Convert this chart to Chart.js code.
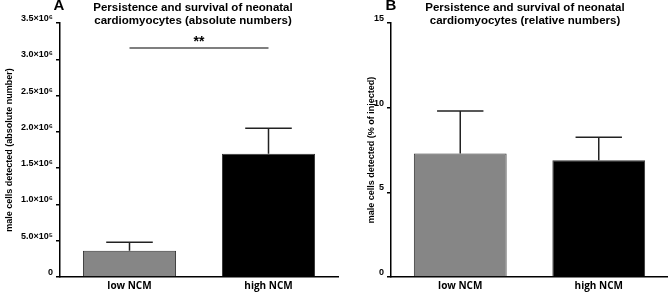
<!DOCTYPE html>
<html>
<head>
<meta charset="utf-8">
<script src="https://cdn.jsdelivr.net/npm/chart.js@4"></script>
<style>
  body { margin: 0; background: #fff; }
  #wrap { position: relative; width: 668px; height: 292px; }
  .panel { position: absolute; top: 0; height: 292px; }
</style>
</head>
<body>
<div id="wrap">
  <div class="panel" style="left:0;width:340px"><canvas id="chartA" width="340" height="292"></canvas></div>
  <div class="panel" style="left:340px;width:328px"><canvas id="chartB" width="328" height="292"></canvas></div>
</div>
<script>
const groups = ['low NCM', 'high NCM'];
const absMean = [360000, 1700000];
const absErr = [120000, 350000];
const relMean = [7.3, 6.9];
const relErr = [2.5, 1.35];
const absTickLabels = ['0', '5.0×10⁵', '1.0×10⁶', '1.5×10⁶', '2.0×10⁶', '2.5×10⁶', '3.0×10⁶', '3.5×10⁶'];
const relTickLabels = ['0', '5', '10', '15'];
const barColors = ['#868686', '#000000'];

const titleFont = 'bold 11.5px "Liberation Sans", Arial, sans-serif';

// upward-only error bars plus panel letter, title lines, significance bar
function annotations(cfg) {
  return {
    id: 'annot_' + cfg.letter,
    afterDatasetsDraw(chart) {
      const ctx = chart.ctx;
      const meta = chart.getDatasetMeta(0);
      const y = chart.scales.y;
      ctx.save();
      ctx.strokeStyle = '#222';
      ctx.lineWidth = 1.5;
      meta.data.forEach((bar, i) => {
        const top = y.getPixelForValue(cfg.mean[i] + cfg.err[i]);
        const half = bar.width / 4;
        ctx.beginPath();
        ctx.moveTo(bar.x, bar.y);
        ctx.lineTo(bar.x, top);
        ctx.moveTo(bar.x - half, top);
        ctx.lineTo(bar.x + half, top);
        ctx.stroke();
      });
      ctx.fillStyle = '#000';
      ctx.textAlign = 'center';
      ctx.textBaseline = 'middle';
      ctx.font = 'bold 15px "Liberation Sans", Arial, sans-serif';
      ctx.fillText(cfg.letter, cfg.letterX, 6);
      ctx.font = titleFont;
      ctx.fillText(cfg.title[0], cfg.titleX, 8);
      ctx.fillText(cfg.title[1], cfg.titleX, 21);
      if (cfg.sig) {
        const x0 = meta.data[0].x, x1 = meta.data[1].x;
        ctx.strokeStyle = '#000';
        ctx.lineWidth = 1.2;
        ctx.beginPath();
        ctx.moveTo(x0, 48);
        ctx.lineTo(x1, 48);
        ctx.stroke();
        ctx.font = 'bold 14px "Liberation Sans", Arial, sans-serif';
        ctx.fillText(cfg.sig, (x0 + x1) / 2, 42);
      }
      ctx.restore();
    }
  };
}

function makeChart(id, mean, opts) {
  return new Chart(document.getElementById(id), {
    type: 'bar',
    data: {
      labels: groups,
      datasets: [{
        data: mean,
        backgroundColor: barColors,
        borderColor: '#333',
        borderWidth: 1,
        categoryPercentage: 1,
        barPercentage: 0.67
      }]
    },
    options: {
      responsive: false,
      animation: false,
      layout: { padding: { top: 23, right: opts.padRight, left: 0, bottom: 0 } },
      plugins: { legend: { display: false }, tooltip: { enabled: false }, title: { display: false } },
      scales: {
        x: {
          grid: { display: false, drawTicks: false },
          border: { display: true, color: '#000', width: 1.5 },
          ticks: {
            color: '#000', padding: 3,
            font: { family: '"Open Sans", sans-serif', weight: 'bold', size: 10 }
          },
          afterFit: (s) => { s.height = 15; }
        },
        y: {
          min: 0,
          max: opts.max,
          ticks: {
            stepSize: opts.step,
            color: '#000',
            padding: 3,
            font: { family: '"Liberation Sans", Arial, sans-serif', weight: 'bold', size: 9, lineHeight: 1 },
            // empty second line lifts each label a little above its tick, as in the original
            callback: (v, i) => [opts.tickLabels[i], '']
          },
          grid: { display: true, drawOnChartArea: false, drawTicks: true, tickLength: 4, color: '#000', lineWidth: 1.5 },
          border: { display: true, color: '#000', width: 1.5 },
          title: {
            display: true,
            text: opts.yTitle,
            color: '#000',
            padding: { top: opts.titlePad, bottom: 0 },
            font: { family: '"Liberation Sans", Arial, sans-serif', weight: 'bold', size: 9 }
          },
          afterFit: (s) => { s.width = opts.axisWidth; }
        }
      }
    },
    plugins: [annotations(opts.annot)]
  });
}

makeChart('chartA', absMean, {
  max: 3500000, step: 500000, tickLabels: absTickLabels,
  yTitle: 'male cells detected (absolute number)',
  axisWidth: 60, titlePad: 4, padRight: 2,
  annot: {
    letter: 'A', letterX: 59, titleX: 193,
    title: ['Persistence and survival of neonatal', 'cardiomyocytes (absolute numbers)'],
    mean: absMean, err: absErr, sig: '**'
  }
});

makeChart('chartB', relMean, {
  max: 15, step: 5, tickLabels: relTickLabels,
  yTitle: 'male cells detected (% of injected)',
  axisWidth: 51, titlePad: 26, padRight: 0,
  annot: {
    letter: 'B', letterX: 51, titleX: 185,
    title: ['Persistence and survival of neonatal', 'cardiomyocytes (relative numbers)'],
    mean: relMean, err: relErr, sig: null
  }
});
</script>
</body>
</html>
